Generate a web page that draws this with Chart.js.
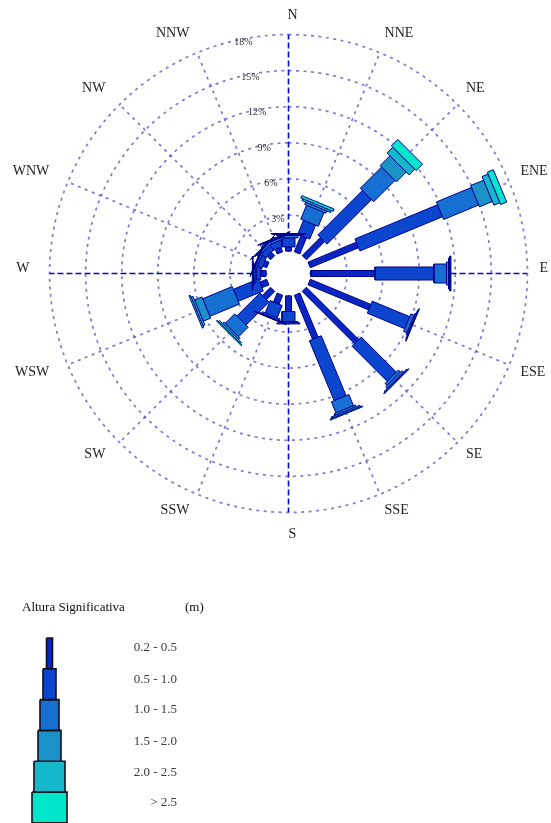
<!DOCTYPE html>
<html>
<head>
<meta charset="utf-8">
<script src="https://cdn.jsdelivr.net/npm/chart.js@4.4.1/dist/chart.umd.min.js"></script>
<style>
  html, body { margin: 0; padding: 0; background: #ffffff; }
  #wrap { width: 551px; height: 823px; position: relative; }
</style>
</head>
<body>
<div id="wrap"><canvas id="rose"></canvas></div>
<script>
// ---------------- DATA (percent of occurrence per direction and wave-height class) ----------------
const directions = ['N','NNE','NE','ENE','E','ESE','SE','SSE','S','SSW','SW','WSW','W','WNW','NW','NNW'];
const heightClasses = ['0.2 - 0.5','0.5 - 1.0','1.0 - 1.5','1.5 - 2.0','2.0 - 2.5','> 2.5'];
//                 N     NNE   NE    ENE   E     ESE   SE    SSE   S     SSW   SW    WSW   W     WNW   NW    NNW
const h02_05  = [0.35, 1.46, 2.13, 4.34, 5.33, 5.45, 6.15, 3.96, 1.30, 0.80, 0.96, 0.63, 0.45, 0.35, 0.40, 0.40];
const h05_10  = [0.75, 1.25, 5.23, 7.43, 4.90, 3.37, 4.12, 5.40, 0.83, 1.10, 2.71, 2.25, 0.40, 0.40, 0.50, 0.55];
const h10_15  = [0.20, 1.25, 2.50, 3.16, 1.04, 0.30, 0.25, 1.00, 0.12, 0.15, 1.12, 2.66, 0.18, 0.15, 0.18, 0.20];
const h15_20  = [0.08, 0.20, 1.16, 1.16, 0.17, 0.10, 0.17, 0.16, 0.08, 0.05, 0.16, 0.66, 0.07, 0.06, 0.07, 0.08];
const h20_25  = [0.05, 0.17, 0.67, 0.54, 0.12, 0.05, 0.08, 0.13, 0.00, 0.03, 0.13, 0.17, 0.03, 0.03, 0.04, 0.05];
const h25_up  = [0.02, 0.21, 0.75, 0.54, 0.08, 0.05, 0.08, 0.08, 0.00, 0.02, 0.08, 0.12, 0.02, 0.01, 0.01, 0.02];
const ringTicks = [3, 6, 9, 12, 15, 18];
const tickLabels = ['3%', '6%', '9%', '12%', '15%', '18%'];
const legendTitle = 'Altura Significativa';
const legendUnit = '(m)';

// ---------------- STYLE / LAYOUT ----------------
const W = 551, H = 823;
const CX = 288.5, CY = 273.5;      // centre of the rose (px)
const K = 12.03;                   // px per 1 %
const HOLE = 22.4 / K;             // empty centre, in % units
const classColors = ['#0A26C2', '#0C46CE', '#1670D2', '#1A92C8', '#18B8CC', '#00E6CA'];
const classWidthsPx = [6, 13, 19, 23, 31, 35];
const series = [h02_05, h05_10, h10_15, h15_20, h20_25, h25_up];
const SERIF = '"Liberation Serif", "Times New Roman", serif';

const toUx = px => (px - CX) / K;
const toUy = py => (CY - py) / K;

function polarPoint(r, angDeg) {
  const a = angDeg * Math.PI / 180;
  return { x: r * Math.sin(a), y: r * Math.cos(a) };
}

const datasets = [];

// grid rings
ringTicks.forEach(t => {
  const pts = [];
  for (let k = 0; k <= 240; k++) pts.push(polarPoint(HOLE + t, k * 360 / 240));
  datasets.push({ data: pts, borderColor: 'rgba(72,72,196,0.72)', borderWidth: 1.7,
    borderDash: [3, 4.5], fill: false, pointRadius: 0, order: 10 });
});
// spokes
directions.forEach((d, i) => {
  const ang = i * 22.5;
  const cardinal = i % 4 === 0;
  datasets.push({ data: [polarPoint(0, ang), polarPoint(HOLE + ringTicks[ringTicks.length - 1], ang)],
    borderColor: cardinal ? '#0808C8' : 'rgba(72,72,196,0.72)',
    borderWidth: cardinal ? 1.6 : 1.7,
    borderDash: cardinal ? [6, 3] : [3, 4.5],
    fill: false, pointRadius: 0, order: 9 });
});
// white centre
(function () {
  const pts = [];
  for (let k = 0; k <= 90; k++) pts.push(polarPoint(HOLE - 0.08, k * 4));
  datasets.push({ data: pts, backgroundColor: '#ffffff', borderColor: '#ffffff', borderWidth: 0,
    fill: 'shape', pointRadius: 0, order: 8 });
})();

// stacked bars of the rose
directions.forEach((d, i) => {
  const ang = i * 22.5 * Math.PI / 180;
  const dx = Math.sin(ang), dy = Math.cos(ang);
  const nx = Math.cos(ang), ny = -Math.sin(ang);
  let cum = 0;
  series.forEach((vals, c) => {
    const v = vals[i];
    const a = HOLE + cum, b = HOLE + cum + v;
    cum += v;
    if (v <= 0) return;
    const hw = classWidthsPx[c] / 2 / K;
    const pts = [
      { x: a * dx + hw * nx, y: a * dy + hw * ny },
      { x: b * dx + hw * nx, y: b * dy + hw * ny },
      { x: b * dx - hw * nx, y: b * dy - hw * ny },
      { x: a * dx - hw * nx, y: a * dy - hw * ny },
      { x: a * dx + hw * nx, y: a * dy + hw * ny }
    ];
    datasets.push({ label: d + ' ' + heightClasses[c], data: pts, backgroundColor: classColors[c],
      borderColor: '#00008E', borderWidth: 1, fill: 'shape', pointRadius: 0,
      borderJoinStyle: 'miter', order: 2 + (5 - c) * 0.01 });
  });
});

// legend blocks
const LEG_X = 49.5, LEG_TOP = 638, LEG_STEP = 30.8;
heightClasses.forEach((name, c) => {
  const hw = classWidthsPx[c] / 2;
  const t = LEG_TOP + c * LEG_STEP, b = t + LEG_STEP;
  const pts = [
    { x: toUx(LEG_X - hw), y: toUy(t) }, { x: toUx(LEG_X + hw), y: toUy(t) },
    { x: toUx(LEG_X + hw), y: toUy(b) }, { x: toUx(LEG_X - hw), y: toUy(b) },
    { x: toUx(LEG_X - hw), y: toUy(t) }
  ];
  datasets.push({ label: name, data: pts, backgroundColor: classColors[c], borderColor: '#10101A',
    borderWidth: 1.6, fill: 'shape', pointRadius: 0, borderJoinStyle: 'miter', order: 1 });
});

const textPlugin = {
  id: 'roseText',
  afterDatasetsDraw(chart) {
    const { ctx, scales: { x, y } } = chart;
    const px = ux => x.getPixelForValue(ux);
    const py = uy => y.getPixelForValue(uy);
    ctx.save();
    // direction labels
    ctx.font = '14px ' + SERIF;
    ctx.fillStyle = '#1e1e1e';
    ctx.textBaseline = 'middle';
    directions.forEach((d, i) => {
      const a = i * 22.5 * Math.PI / 180;
      const s = Math.sin(a), c = Math.cos(a);
      let align = 'center', rx = 255, xo = 4;
      if (s > 0.2) { align = 'left'; rx = 251; xo = 0; }
      else if (s < -0.2) { align = 'right'; rx = 259; xo = 0; }
      let ry = 255;
      if (align === 'center') ry = c > 0 ? 253.5 : 259.5;
      const yo = c > -0.1 ? -5 : 1;
      ctx.textAlign = align;
      ctx.fillText(d, px(rx / K * s) + xo, py(ry / K * c) + yo);
    });
    // ring tick labels
    ctx.font = '10px ' + SERIF;
    ctx.fillStyle = '#333333';
    ctx.textAlign = 'center';
    const ta = -11 * Math.PI / 180;
    ringTicks.forEach((t, k) => {
      const r = HOLE + t - 3 / K;
      ctx.fillText(tickLabels[k], px(r * Math.sin(ta)), py(r * Math.cos(ta)));
    });
    // legend texts
    ctx.fillStyle = '#111111';
    ctx.font = '13px ' + SERIF;
    ctx.textAlign = 'left';
    ctx.fillText(legendTitle, px(toUx(22)), py(toUy(608)));
    ctx.fillText(legendUnit, px(toUx(185)), py(toUy(608)));
    ctx.font = '13px ' + SERIF;
    ctx.fillStyle = '#3a3a3a';
    ctx.textAlign = 'right';
    const legendY = [648, 680, 710, 742, 773, 803];
    heightClasses.forEach((name, c) => {
      ctx.fillText(name, px(toUx(177)), py(toUy(legendY[c])));
    });
    ctx.restore();
  }
};

new Chart(document.getElementById('rose'), {
  type: 'line',
  data: { datasets },
  options: {
    responsive: true,
    maintainAspectRatio: false,
    animation: false,
    events: [],
    layout: { padding: 0 },
    plugins: { legend: { display: false }, tooltip: { enabled: false }, title: { display: false } },
    elements: { line: { tension: 0 }, point: { radius: 0 } },
    scales: {
      x: { type: 'linear', display: false, min: toUx(0), max: toUx(W) },
      y: { type: 'linear', display: false, min: toUy(H), max: toUy(0) }
    }
  },
  plugins: [textPlugin]
});
</script>
</body>
</html>
